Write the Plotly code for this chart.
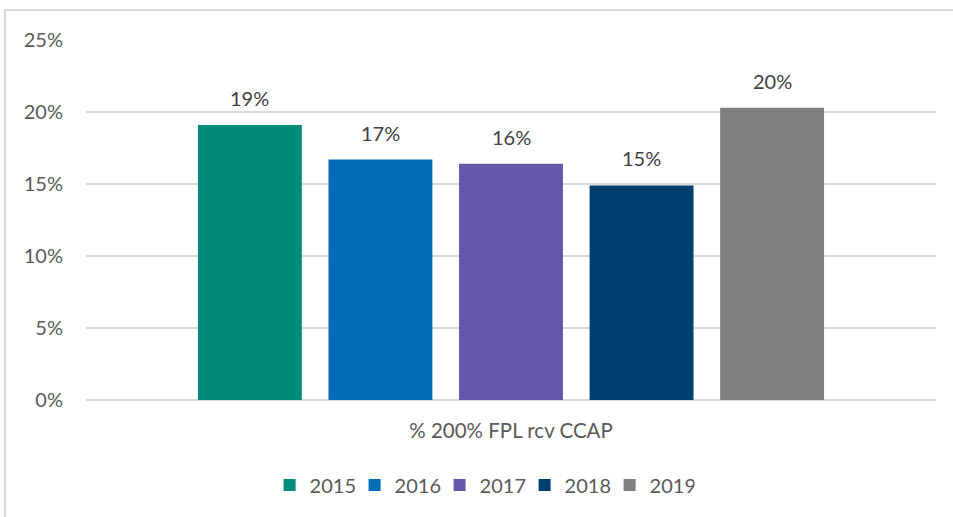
import plotly.graph_objects as go

category = ["% 200% FPL rcv CCAP"]
years = ["2015", "2016", "2017", "2018", "2019"]
values = [0.191, 0.167, 0.164, 0.149, 0.203]
labels = ["19%", "17%", "16%", "15%", "20%"]
colors = ["#008B7A", "#006DB6", "#6657AD", "#003E6E", "#7F7F7F"]
yticks = [0, 0.05, 0.10, 0.15, 0.20, 0.25]
yticklabels = ["0%", "5%", "10%", "15%", "20%", "25%"]

FONT = "Lato, Carlito, Calibri, sans-serif"
W, H = 953, 517
ML, MR, MT, MB = 86, 17, 40, 117
BARGAP, GROUPGAP = 0.232, 0.204
plot_w = W - ML - MR
slot_px = plot_w * (1 - BARGAP) / len(years)

fig = go.Figure()
for yr, v, c in zip(years, values, colors):
    fig.add_trace(go.Bar(name=yr, x=category, y=[v], marker_color=c, marker_line_width=0))

annotations = []
n = len(years)
for i, (v, lab) in enumerate(zip(values, labels)):
    annotations.append(dict(
        x=category[0], y=v, xref="x", yref="y", text=lab, showarrow=False,
        xshift=(i - (n - 1) / 2) * slot_px, yshift=13, yanchor="bottom",
        font=dict(size=20, color="#404040", family=FONT),
    ))

fig.update_layout(
    width=W, height=H,
    margin=dict(l=ML, r=MR, t=MT, b=MB),
    paper_bgcolor="white", plot_bgcolor="white",
    barmode="group", bargap=BARGAP, bargroupgap=GROUPGAP,
    font=dict(family=FONT, size=20, color="#595959"),
    showlegend=True,
    legend=dict(orientation="h", x=0.466, xanchor="center", y=-0.236, yanchor="middle",
                font=dict(size=20, color="#595959"), traceorder="normal", entrywidth=40),
    xaxis=dict(showgrid=False, showline=False, ticks="", ticklabelstandoff=16,
               tickfont=dict(size=20.5, color="#595959")),
    yaxis=dict(range=[0, 0.25], tickvals=yticks, ticktext=yticklabels,
               showgrid=True, gridcolor="#D9D9D9", gridwidth=1.5,
               zeroline=True, zerolinecolor="#D9D9D9", zerolinewidth=1.5,
               showline=False, ticks="", ticklabelstandoff=22,
               tickfont=dict(size=20, color="#595959")),
    annotations=annotations,
    shapes=[dict(type="rect", xref="paper", yref="paper",
                 x0=(5 - ML) / plot_w, x1=(W + 10 - ML) / plot_w,
                 y0=-0.5, y1=1 + 30 / (H - MT - MB),
                 line=dict(color="#D9D9D9", width=2), fillcolor="rgba(0,0,0,0)", layer="below")],
)

fig.write_html("out.html", config={"displayModeBar": False},
               post_script="document.body.style.margin='0';")
